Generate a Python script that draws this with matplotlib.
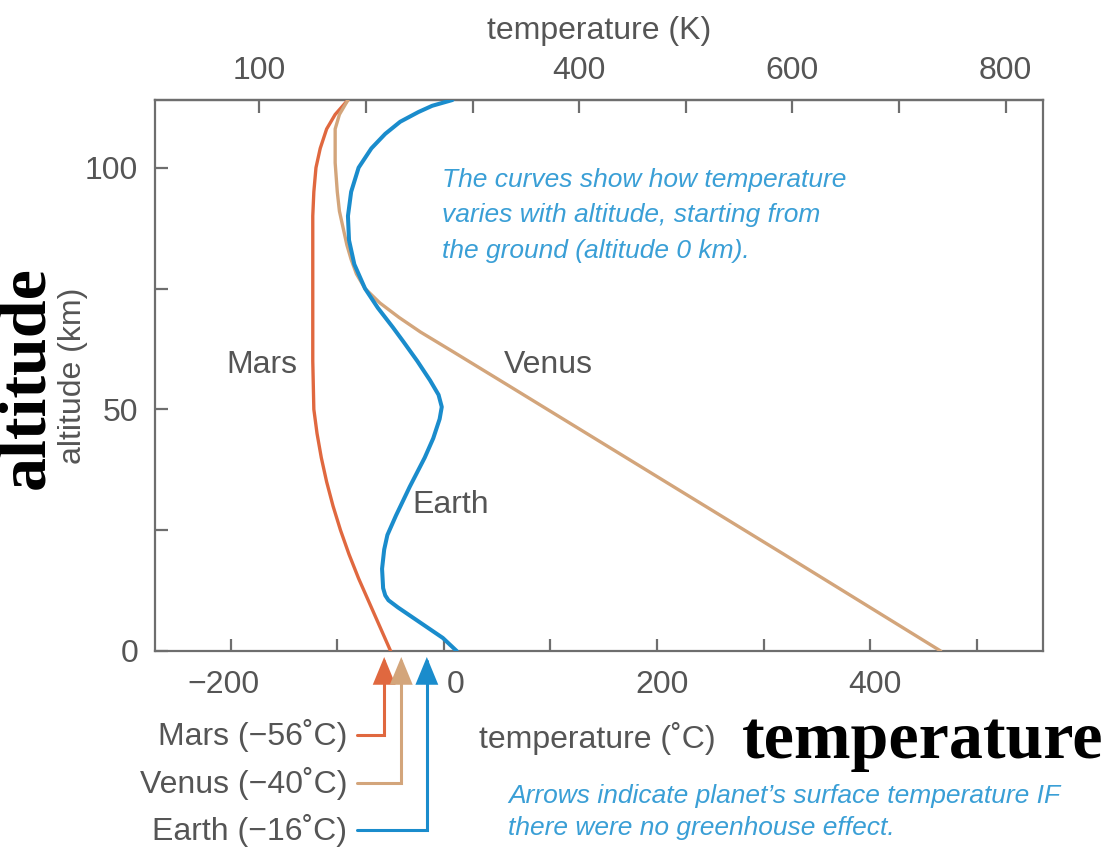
import matplotlib
matplotlib.use("Agg")
import matplotlib.pyplot as plt
from matplotlib.transforms import ScaledTranslation

# ---- data: temperature profiles (altitude in km, temperature in deg C) ----
mars_alt = [0, 5, 10, 15, 20, 25, 30, 35, 40, 45, 50, 60, 70, 80, 90, 95, 100, 104, 108, 111, 114]
mars_temp = [-50, -60, -70, -80, -89, -97, -104, -110, -115, -119, -122, -123, -123, -123,
             -123, -122, -120, -116, -110, -102, -90]

venus_alt = [0, 20, 40, 55, 62, 66, 69, 72, 75, 78, 81, 84, 88, 91, 95, 101, 108, 111, 114]
venus_temp = [466, 319, 171, 60, 8, -22, -42, -60, -74, -82, -87, -91, -95, -98, -100,
              -102, -102, -98, -90]

earth_alt = [0, 2.7, 6, 9, 10.5, 11.5, 13, 17, 21, 24, 28, 34, 40, 44, 48, 50.5, 53, 56, 60,
             64, 67, 71, 75, 80, 85, 90, 95, 100, 104, 107, 109.5, 111.5, 112.8, 114]
earth_temp = [12, -1, -23, -43, -52, -55, -57, -58, -56, -53, -45, -32, -18, -10, -4, -2, -5,
              -13, -25, -38, -48, -62, -74, -84, -89, -90, -87, -80, -68, -55, -41, -24, -11, 8]

# surface temperatures without greenhouse effect
planets = ["Mars", "Venus", "Earth"]
bare_temp = [-56, -40, -16]

celsius_ticks = [-200, -100, 0, 100, 200, 300, 400, 500]
celsius_labels = ["\u2212200", "", "0", "", "200", "", "400", ""]
kelvin_ticks = [100, 200, 300, 400, 500, 600, 700, 800]
kelvin_labels = ["100", "", "", "400", "", "600", "", "800"]
alt_ticks = [0, 25, 50, 75, 100]
alt_labels = ["0", "", "50", "", "100"]

# ---- style ----
plt.rcParams["font.family"] = ["Liberation Sans", "DejaVu Sans"]

grey_txt = "#555555"
grey_axis = "#6e6e6e"
note_blue = "#3a9fd6"
c_mars = "#e0683f"
c_venus = "#d3a57b"
c_earth = "#1a8ccc"
colors = [c_mars, c_venus, c_earth]
widths = [2.4, 2.4, 2.9]
fs = 23

fig = plt.figure(figsize=(11.12, 8.5), dpi=100)
ax = fig.add_axes([155 / 1112, 1 - 651 / 850, 888 / 1112, 551 / 850])
ax.set_xlim(-271, 562)
ax.set_ylim(0, 114)

for alt, temp, c, w in zip([mars_alt, venus_alt, earth_alt],
                           [mars_temp, venus_temp, earth_temp], colors, widths):
    ax.plot(temp, alt, color=c, lw=w, solid_joinstyle="round", solid_capstyle="round",
            zorder=3)

for sp in ax.spines.values():
    sp.set_color(grey_axis)
    sp.set_linewidth(1.6)

ax.set_xticks(celsius_ticks)
ax.set_xticklabels(celsius_labels)
ax.set_yticks(alt_ticks)
ax.set_yticklabels(alt_labels)
ax.tick_params(axis="x", direction="in", length=9, width=1.6, color=grey_axis,
               labelsize=fs, labelcolor=grey_txt, pad=14)
ax.tick_params(axis="y", direction="in", length=9, width=1.6, color=grey_axis,
               labelsize=fs, labelcolor=grey_txt, pad=12)

# nudge bottom labels: digits centred on ticks, "0" kept clear of the arrows
shifts = {"\u2212200": -0.07, "0": 0.12, "200": 0.05, "400": 0.05}
for lab in ax.get_xticklabels():
    dx = shifts.get(lab.get_text(), 0)
    lab.set_transform(lab.get_transform() + ScaledTranslation(dx, 0, fig.dpi_scale_trans))

top = ax.secondary_xaxis("top", functions=(lambda c: c + 273.15, lambda k: k - 273.15))
top.set_xticks(kelvin_ticks)
top.set_xticklabels(kelvin_labels)
top.tick_params(direction="in", length=9, width=1.6, color=grey_axis,
                labelsize=fs, labelcolor=grey_txt, pad=10)
top.spines["top"].set_color(grey_axis)
top.spines["top"].set_linewidth(1.6)
top.set_xlabel("temperature (K)", fontsize=fs, color=grey_txt, labelpad=12)

ax.set_xlabel("temperature (\u02daC)", fontsize=fs, color=grey_txt)
ax.xaxis.set_label_coords(0.498, -0.128)
ax.set_ylabel("altitude (km)", fontsize=fs, color=grey_txt)
ax.yaxis.set_label_coords(-0.076, 0.5)

# curve names
ax.text(-171, 59.2, "Mars", fontsize=fs, color=grey_txt, ha="center", va="center")
ax.text(98, 59.2, "Venus", fontsize=fs, color=grey_txt, ha="center", va="center")
ax.text(6, 30.2, "Earth", fontsize=fs, color=grey_txt, ha="center", va="center")

# explanatory notes
ax.text(0.323, 0.877, "The curves show how temperature\nvaries with altitude, starting from\n"
        "the ground (altitude 0 km).", transform=ax.transAxes, fontsize=19,
        style="italic", color=note_blue, ha="left", va="top", linespacing=1.6)
fig.text(508 / 1112, 1 - 784 / 850, "Arrows indicate planet\u2019s surface temperature IF\n"
         "there were no greenhouse effect.", fontsize=19,
         style="italic", color=note_blue, ha="left", va="top", linespacing=1.42)

# arrows marking the no-greenhouse surface temperatures
label_y = [735, 783, 830]
for name, t, c, yp in zip(planets, bare_temp, colors, label_y):
    ax.annotate(f"{name} (\u2212{abs(t)}\u02daC)",
                xy=(t, 1 - 657 / 850), xycoords=("data", "figure fraction"),
                xytext=(347 / 1112, 1 - yp / 850), textcoords="figure fraction",
                ha="right", va="center", fontsize=fs, color=grey_txt,
                arrowprops=dict(arrowstyle="-|>,head_length=0.8,head_width=0.33",
                                connectionstyle="angle,angleA=0,angleB=90,rad=0",
                                color=c, lw=2.2, shrinkA=5, shrinkB=0,
                                mutation_scale=20, joinstyle="miter"),
                annotation_clip=False)

# big bold axis words
fig.text(742 / 1112, 1 - 758 / 850, "temperature", fontsize=49,
         family=["Liberation Serif", "DejaVu Serif"], weight="bold", color="black",
         ha="left", va="baseline")
fig.text(57 / 1112, 1 - 378 / 850, "altitude", fontsize=49, rotation=90,
         family=["Liberation Serif", "DejaVu Serif"], weight="bold", color="black",
         ha="right", va="center")

fig.savefig("out.png", dpi=100)
